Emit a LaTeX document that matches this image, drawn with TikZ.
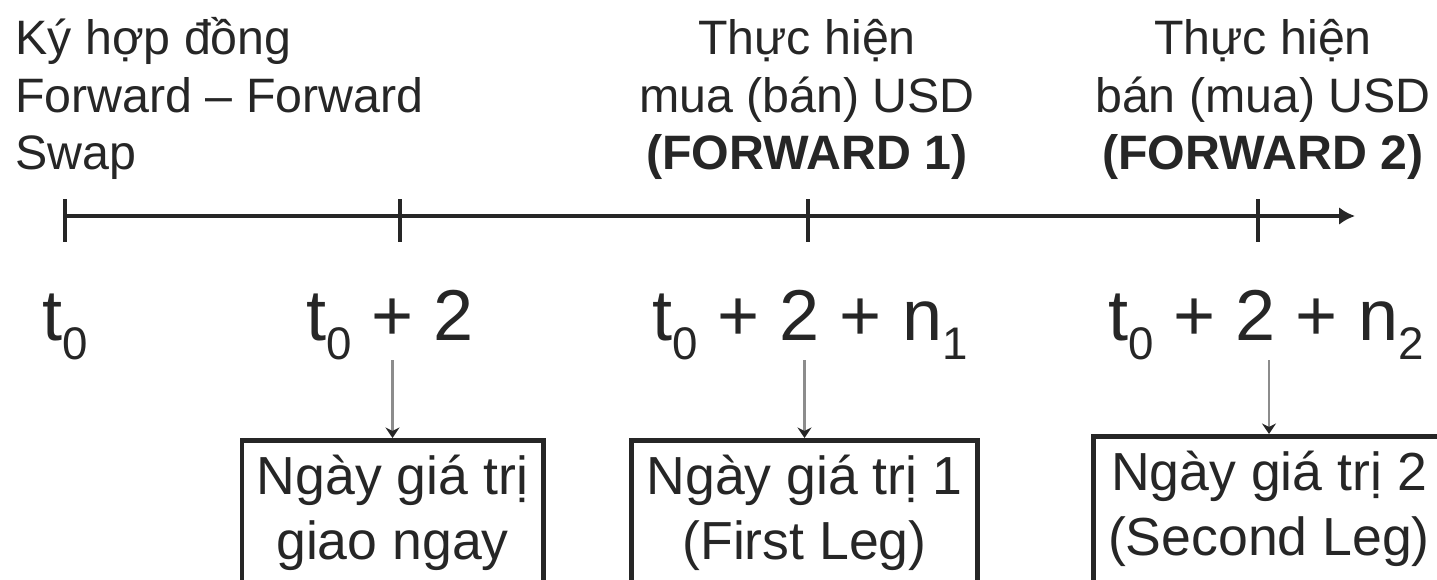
\documentclass[tikz,border=0pt]{standalone}
\usepackage{fontspec}
\setmainfont{Liberation Sans}
\usetikzlibrary{arrows.meta}
\usetikzlibrary{calc}

\newcommand{\lowidx}[1]{\raisebox{-10.5pt}{\fontsize{26}{26}\selectfont #1}}

\begin{document}
\begin{tikzpicture}[
    timeline/.style={black!85, line width=2.6pt},
    tickmark/.style={black!85, line width=2.6pt},
    caption/.style={font=\fontsize{27.5}{33}\selectfont, text=black!85, inner sep=0pt},
    timelabel/.style={font=\fontsize{41}{41}\selectfont, text=black!85, inner sep=0pt, anchor=base},
    datebox/.style={draw=black!85, line width=2.8pt, text=black!85, font=\fontsize{30.5}{37}\selectfont, align=center, anchor=north, inner xsep=0.3cm, inner ysep=0.3cm},
    pointer/.style={black!45, line width=1.5pt, -{Stealth[length=6pt,width=8pt,color=black!85]}}
]
    \useasboundingbox (0,0) rectangle (28.74,11.6);

    \coordinate (t0) at (1.3,7.28);
    \coordinate (t1) at (8.0,7.28);
    \coordinate (t2) at (16.16,7.28);
    \coordinate (t3) at (25.16,7.28);
    \coordinate (tend) at (27.1,7.28);

    \draw[timeline, -{Latex[length=9pt,width=10pt]}] (t0) -- (tend);
    \foreach \p in {t0,t1,t2,t3}
        \draw[tickmark] ($(\p)+(0,0.33)$) -- ($(\p)+(0,-0.52)$);

    \node[caption, align=left, anchor=base west] (sign) at (0.3,8.2) {Ký hợp đồng\\Forward – Forward\\Swap};
    \node[caption, align=center, anchor=base] (leg1) at (16.14,8.2) {Thực hiện\\mua (bán) USD\\\textbf{(FORWARD 1)}};
    \node[caption, align=center, anchor=base] (leg2) at (25.26,8.2) {Thực hiện\\bán (mua) USD\\\textbf{(FORWARD 2)}};

    \node[timelabel] (d0) at (1.3,4.78) {t\lowidx{0}};
    \node[timelabel] (d1) at (7.8,4.78) {t\lowidx{0} + 2};
    \node[timelabel] (d2) at (16.2,4.78) {t\lowidx{0} + 2 + n\lowidx{1}};
    \node[timelabel] (d3) at (25.32,4.78) {t\lowidx{0} + 2 + n\lowidx{2}};

    \node[datebox] (spot) at (7.85,2.84) {Ngày giá trị\\giao ngay};
    \node[datebox] (first) at (16.09,2.84) {Ngày giá trị 1\\(First Leg)};
    \node[datebox] (second) at (25.38,2.92) {Ngày giá trị 2\\(Second Leg)};

    \draw[pointer] (d1.south -| spot.north) -- (spot.north);
    \draw[pointer] (d2.south -| first.north) -- (first.north);
    \draw[pointer] (d3.south -| second.north) -- (second.north);
\end{tikzpicture}
\end{document}
